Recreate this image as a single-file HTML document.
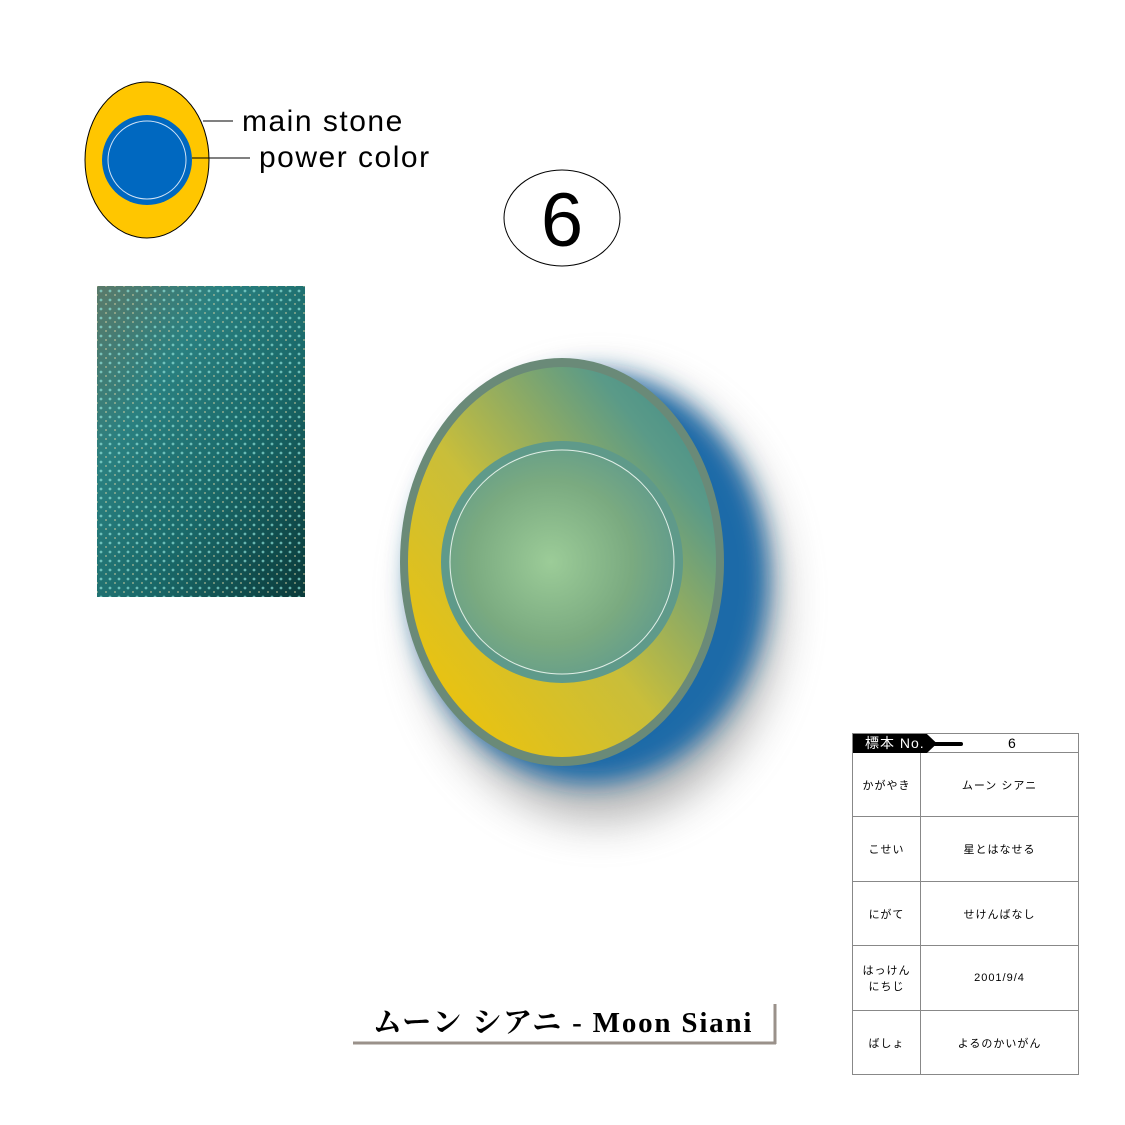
<!DOCTYPE html>
<html><head><meta charset="utf-8"><style>
body{margin:0;width:1125px;height:1125px;background:#fff;position:relative;overflow:hidden;font-family:"Liberation Sans","Noto Sans CJK JP",sans-serif}
.abs{position:absolute}
table{border-collapse:collapse}
td{border:1px solid #888;font-size:11px;text-align:center;padding:0;letter-spacing:1px}
</style></head><body>
<svg class="abs" style="left:0;top:0" width="1125" height="1125">
<defs>
<linearGradient id="stone" x1="0" y1="1" x2="1" y2="0">
<stop offset="0" stop-color="#f6c400"/><stop offset="0.45" stop-color="#c9be3a"/><stop offset="0.8" stop-color="#5a9a88"/><stop offset="1" stop-color="#3c8a8a"/></linearGradient>
<radialGradient id="core" cx="0.45" cy="0.5" r="0.6"><stop offset="0" stop-color="#9ccc98"/><stop offset="0.6" stop-color="#7aaa80"/><stop offset="1" stop-color="#5e9a8e"/></radialGradient>
<filter id="blur" x="-50%" y="-50%" width="200%" height="200%"><feGaussianBlur stdDeviation="22"/></filter>
<filter id="blur2" x="-50%" y="-50%" width="200%" height="200%"><feGaussianBlur stdDeviation="12"/></filter>
<linearGradient id="photo" x1="0" y1="0" x2="1" y2="1"><stop offset="0" stop-color="#5a7a6a"/><stop offset="0.3" stop-color="#2a8080"/><stop offset="0.6" stop-color="#1a6a6a"/><stop offset="1" stop-color="#0a3a3a"/></linearGradient>
<pattern id="sp" width="9" height="9" patternUnits="userSpaceOnUse"><circle cx="2" cy="3" r="1.4" fill="#8fe0d8" opacity="0.7"/><circle cx="7" cy="7" r="1" fill="#d8d0a0" opacity="0.6"/></pattern>
</defs>
<g>
<ellipse cx="147" cy="160" rx="62" ry="78" fill="#ffc600" stroke="#000" stroke-width="1"/>
<circle cx="147" cy="160" r="45" fill="#0068c0"/>
<circle cx="147" cy="160" r="39" fill="none" stroke="#cfe2f5" stroke-width="1"/>
<line x1="203" y1="121" x2="233" y2="121" stroke="#000"/>
<line x1="192" y1="158" x2="250" y2="158" stroke="#000"/>
</g>
<text x="242" y="131" font-size="30" letter-spacing="1.5" font-family="Liberation Sans">main stone</text>
<text x="259" y="167" font-size="30" letter-spacing="1.5" font-family="Liberation Sans">power color</text>
<ellipse cx="562" cy="218" rx="58" ry="48" fill="#fff" stroke="#000"/>
<text x="562" y="246" font-size="76" text-anchor="middle" font-family="Liberation Sans">6</text>
<g>
<rect x="97" y="286" width="208" height="311" fill="url(#photo)"/>
<rect x="97" y="286" width="208" height="311" fill="url(#sp)"/>
</g>
<g>
<ellipse cx="600" cy="600" rx="180" ry="220" fill="#777" opacity="0.55" filter="url(#blur)"/>
<ellipse cx="590" cy="578" rx="178" ry="205" fill="#1e6aa8" filter="url(#blur2)"/>
<ellipse cx="562" cy="562" rx="162" ry="204" fill="#6a8a78"/>
<ellipse cx="562" cy="562" rx="154" ry="195" fill="url(#stone)"/>
<circle cx="562" cy="562" r="121" fill="#5f9a8a"/>
<circle cx="562" cy="562" r="113" fill="url(#core)"/>
<circle cx="562" cy="562" r="112" fill="none" stroke="#e0eee8" stroke-width="1"/>
</g>
<g>
<line x1="353" y1="1043" x2="776" y2="1043" stroke="#9a918a" stroke-width="3"/>
<line x1="775" y1="1004" x2="775" y2="1044" stroke="#9a918a" stroke-width="3"/>
<text x="563" y="1032" font-size="29" font-weight="bold" letter-spacing="1.8" text-anchor="middle" font-family="Liberation Serif,'Noto Serif CJK SC',serif">ムーン シアニ - Moon Siani</text>
</g>
</svg>
<div class="abs" style="left:852px;top:733px">
<table style="width:227px">
<tr style="height:19px"><td colspan="2" style="position:relative;font-size:14px;text-align:left;padding-left:155px">
<div style="position:absolute;left:0;top:0;width:84px;height:19px;background:#000;color:#fff;font-size:14px;line-height:19px;padding-left:12px;box-sizing:border-box;text-align:left;clip-path:polygon(0 0,88% 0,100% 50%,88% 100%,0 100%)">標本 No.</div>
<div style="position:absolute;left:80px;top:8px;width:30px;height:4px;background:#000;border-radius:2px"></div>6</td></tr>
<tr style="height:64px"><td style="width:67px">かがやき</td><td>ムーン シアニ</td></tr>
<tr style="height:65px"><td>こせい</td><td>星とはなせる</td></tr>
<tr style="height:64px"><td>にがて</td><td>せけんばなし</td></tr>
<tr style="height:65px"><td>はっけん<br>にちじ</td><td>2001/9/4</td></tr>
<tr style="height:64px"><td>ばしょ</td><td>よるのかいがん</td></tr>
</table></div>
</body></html>
